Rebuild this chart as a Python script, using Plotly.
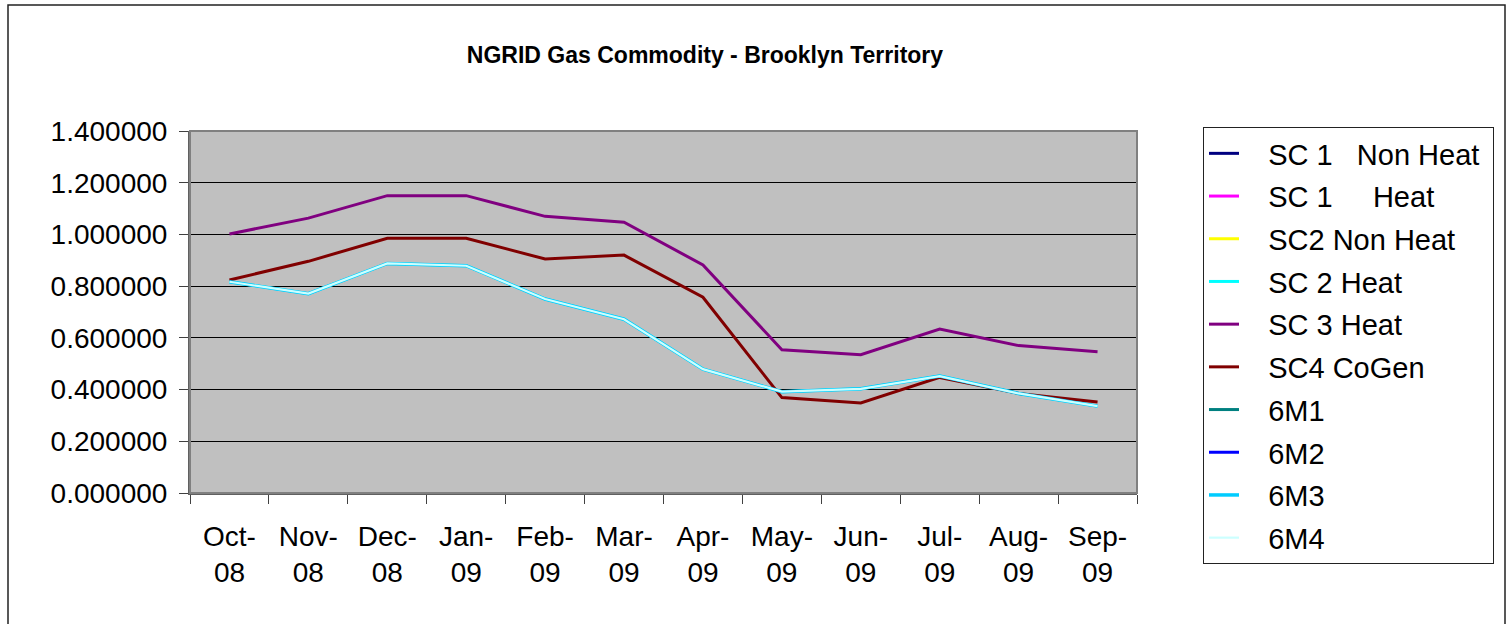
import plotly.graph_objects as go

months = ["Oct-08", "Nov-08", "Dec-08", "Jan-09", "Feb-09", "Mar-09",
          "Apr-09", "May-09", "Jun-09", "Jul-09", "Aug-09", "Sep-09"]
month_labels = ["Oct-<br>08", "Nov-<br>08", "Dec-<br>08", "Jan-<br>09", "Feb-<br>09", "Mar-<br>09",
                "Apr-<br>09", "May-<br>09", "Jun-<br>09", "Jul-<br>09", "Aug-<br>09", "Sep-<br>09"]

y_ticks = [0.0, 0.2, 0.4, 0.6, 0.8, 1.0, 1.2, 1.4]

# series with no visible data in the chart
sc1_non_heat = [None, None, None, None, None, None, None, None, None, None, None, None]
sc1_heat = [None, None, None, None, None, None, None, None, None, None, None, None]
sc2_non_heat = [None, None, None, None, None, None, None, None, None, None, None, None]
m6_1 = [None, None, None, None, None, None, None, None, None, None, None, None]
m6_2 = [None, None, None, None, None, None, None, None, None, None, None, None]

sc2_heat = [0.817, 0.771, 0.888, 0.879, 0.750, 0.672, 0.479, 0.392, 0.403, 0.452, 0.385, 0.336]
sc3_heat = [1.002, 1.063, 1.150, 1.150, 1.070, 1.047, 0.882, 0.554, 0.535, 0.634, 0.570, 0.546]
sc4_cogen = [0.824, 0.896, 0.985, 0.985, 0.905, 0.920, 0.757, 0.369, 0.348, 0.447, 0.385, 0.352]
m6_3 = [0.817, 0.771, 0.888, 0.879, 0.750, 0.672, 0.479, 0.392, 0.403, 0.452, 0.385, 0.336]
m6_4 = [0.817, 0.771, 0.888, 0.879, 0.750, 0.672, 0.479, 0.392, 0.403, 0.452, 0.385, 0.336]

NB = "\u00a0"
series = [
    ("SC 1" + NB * 3 + "Non Heat", sc1_non_heat, "#000080", 3),
    ("SC 1" + NB * 5 + "Heat", sc1_heat, "#FF00FF", 3),
    ("SC2 Non Heat", sc2_non_heat, "#FFFF00", 3),
    ("SC 2 Heat", sc2_heat, "#00FFFF", 3),
    ("SC 3 Heat", sc3_heat, "#800080", 3),
    ("SC4 CoGen", sc4_cogen, "#800000", 3),
    ("6M1", m6_1, "#008080", 3),
    ("6M2", m6_2, "#0000FF", 3),
    ("6M3", m6_3, "#00CCFF", 3.5),
    ("6M4", m6_4, "#CCFFFF", 2.2),
]

FONT = "Liberation Sans, Arial, sans-serif"

fig = go.Figure()
for i, (name, vals, color, w) in enumerate(series):
    fig.add_trace(go.Scatter(
        x=months, y=vals, name=NB * 3 + name + NB, mode="lines",
        line=dict(color=color, width=w),
        legendgroup=f"g{i}",
        connectgaps=False,
    ))

W, H = 1511, 624
L, R, T, B = 190, 1137, 131, 493
pw, ph = R - L, B - T


def px_x(p):
    return (p - L) / pw


def px_y(p):
    return (B - p) / ph


fig.update_layout(
    width=W, height=H,
    margin=dict(l=L, r=W - R, t=T, b=H - B, pad=0),
    paper_bgcolor="white",
    plot_bgcolor="#C0C0C0",
    font=dict(family=FONT, color="black"),
    title=dict(
        text="<b>NGRID Gas Commodity - Brooklyn Territory</b>",
        font=dict(family=FONT, size=23, color="black"),
        x=705 / W, xanchor="center", xref="container",
        y=1 - 55 / H, yanchor="middle", yref="container",
    ),
    xaxis=dict(
        type="category",
        categoryorder="array", categoryarray=months,
        tickvals=months, ticktext=month_labels,
        tickson="boundaries",
        range=[-0.5, len(months) - 0.5],
        ticks="outside", ticklen=9, tickwidth=1, tickcolor="#404040",
        showline=True, linecolor="#606060", linewidth=2,
        showgrid=False, zeroline=False,
        tickfont=dict(family=FONT, size=28, color="black"),
        ticklabelstandoff=17,
        tickangle=0,
    ),
    yaxis=dict(
        range=[0, 1.4],
        tickvals=y_ticks,
        tickformat=".6f",
        ticks="outside", ticklen=9, tickwidth=1, tickcolor="#404040",
        showline=True, linecolor="#606060", linewidth=2,
        showgrid=True, gridcolor="black", gridwidth=1,
        zeroline=False,
        tickfont=dict(family=FONT, size=28, color="black"),
        ticklabelstandoff=6,
    ),
    legend=dict(
        x=px_x(1203), xanchor="left",
        y=px_y(127), yanchor="top",
        bgcolor="white",
        bordercolor="#222222", borderwidth=1,
        font=dict(family=FONT, size=29, color="black"),
        traceorder="grouped",
        tracegroupgap=2,
        itemclick=False,
        maxheight=600,
    ),
    showlegend=True,
)

# plot area border
fig.add_shape(type="rect", xref="paper", yref="paper",
              x0=0, x1=1, y0=0, y1=1,
              line=dict(color="#808080", width=2), layer="above")
# outer chart frame
fig.add_shape(type="rect", xref="paper", yref="paper",
              x0=px_x(8), x1=px_x(1505), y0=px_y(5), y1=px_y(660),
              line=dict(color="#222222", width=1.5), layer="above")

fig.write_html(
    "out.html",
    config={"displayModeBar": False},
    post_script="document.body.style.margin='0';document.body.style.overflow='hidden';",
)
